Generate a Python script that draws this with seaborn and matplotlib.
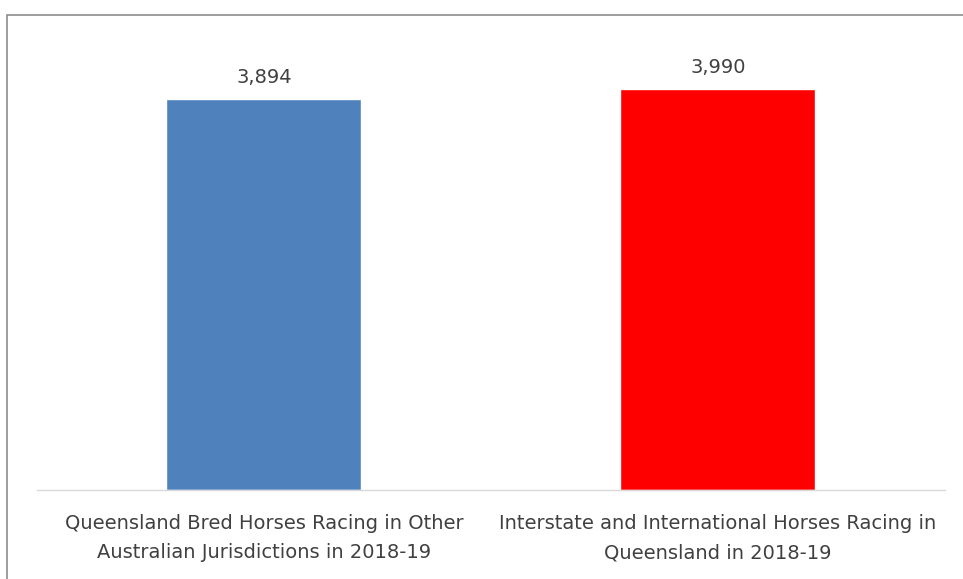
import matplotlib
matplotlib.use("Agg")
import matplotlib.pyplot as plt
import seaborn as sns
import pandas as pd
from matplotlib.patches import Rectangle

categories = ["Queensland Bred Horses Racing in Other\nAustralian Jurisdictions in 2018-19",
              "Interstate and International Horses Racing in\nQueensland in 2018-19"]
values = [3894, 3990]
colors = ["#4F81BD", "#FF0000"]

df = pd.DataFrame({"cat": categories, "val": values})

sns.set_style("white")
plt.rcParams['font.family'] = ['Liberation Sans Narrow', 'DejaVu Sans Condensed', 'DejaVu Sans']

fig = plt.figure(figsize=(9.63, 5.79), dpi=100)
ax = fig.add_axes([0.0384, 0.1537, 0.9426, 0.798])
sns.barplot(data=df, x="cat", y="val", hue="cat", palette=colors, width=0.43,
            legend=False, ax=ax, saturation=1)

for i, v in enumerate(values):
    ax.text(i, v + 120, f"{v:,}", ha="center", va="bottom", fontsize=14, color="#404040")

ax.set_xlim(-0.5, 1.5)
ax.set_ylim(0, 4600)
ax.set_yticks([])
ax.set_xlabel("")
ax.set_ylabel("")
ax.tick_params(axis="x", length=0, pad=17, labelsize=14, labelcolor="#404040")
for lbl in ax.get_xticklabels():
    lbl.set_linespacing(1.72)
for s in ["top", "right", "left"]:
    ax.spines[s].set_visible(False)
ax.spines["bottom"].set_color("#D9D9D9")
ax.spines["bottom"].set_linewidth(1)

# outer chart border
fig.patches.append(Rectangle((7 / 963, -0.01), 1.0, 1 - 15 / 579 + 0.01,
                             transform=fig.transFigure, fill=False,
                             edgecolor="#8C8C8C", linewidth=1.2))

fig.savefig("out.png", dpi=100)
